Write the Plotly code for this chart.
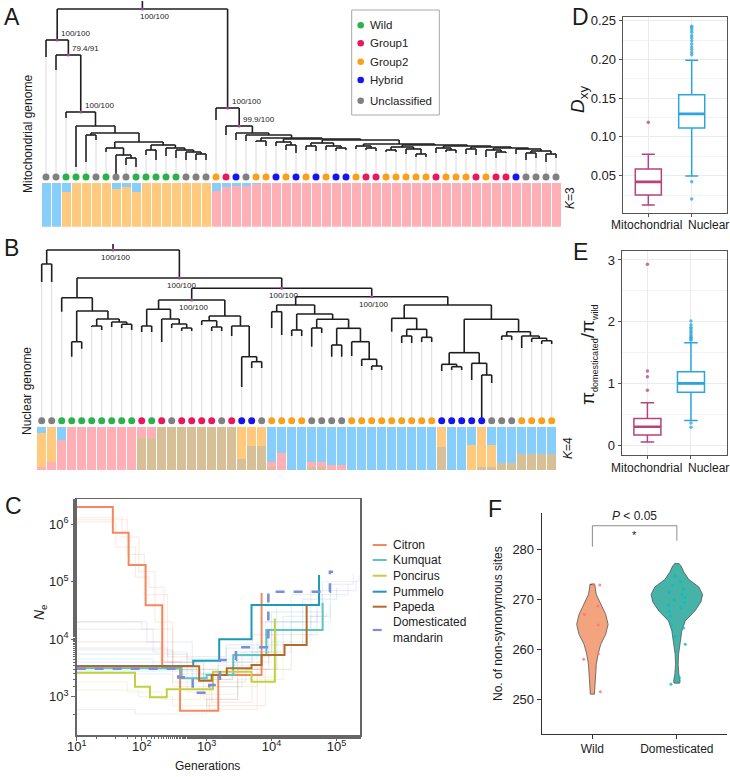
import plotly.graph_objects as go

W, H = 730, 777
FONT = "Liberation Sans, Arial, sans-serif"


def xdom(a, b):
    return [a / W, b / W]


def ydom(top, bottom):
    return [1 - bottom / H, 1 - top / H]


# ------------------------------------------------------------------ data
GROUP_ORDER = ["W", "G1", "G2", "H", "U"]
GROUP_NAMES = {"W": "Wild", "G1": "Group1", "G2": "Group2", "H": "Hybrid", "U": "Unclassified"}
GROUP_COLORS = {"W": "#2BB24C", "G1": "#E8185C", "G2": "#F8A11C", "H": "#1616EC", "U": "#808080"}

A_groups = ("U U W W W U W U U W W W W W U U U G2 G1 H U G2 G2 H G2 H G2 H G2 H "
            "H G2 G1 G1 G2 G2 G2 G2 G2 G1 G2 G2 G2 G1 G2 G1 G1 H U U U U").split()
B_groups = ("U U W W W W W W W W G1 W G1 U G1 G1 G1 G1 U G1 H H U G2 G2 G2 G2 U U U U "
            "G2 G2 G2 G2 G2 G2 G2 G2 G2 H H H H H U U U G2 G2 G2 G2").split()

# tip depths (tree units, top = 0)
A_tip_end = [57, 70, 118, 167, 162, 140, 152, 175, 165, 167, 155, 160, 156, 158, 160, 160, 160,
             120, 135, 140, 141, 142, 146, 146, 150, 153, 150, 151, 150, 151, 150, 149, 150,
             151, 152, 152, 154, 157, 157, 153, 152, 153, 154, 155, 157, 158, 153, 154, 160,
             158, 162, 158]
B_tip_end = [282, 282, 311.7, 356.7, 348.7, 327, 330, 327, 328, 330,
             332, 332, 342, 328, 331, 331, 325, 331, 331, 336,
             387, 368, 368, 328, 335, 336, 336, 346.7, 333, 356.7,
             356.7, 356, 366, 370, 370, 331.7, 343, 343, 342, 342,
             371, 370, 370, 380, 420, 383, 340, 340, 348, 342,
             344, 344]


def N(y, *kids, lab=None):
    return {"y": y, "kids": kids, "lab": lab}


A_tree = N(9,
           N(40, 0, N(55, 1, N(112, 2, N(126, 3, N(133, N(135, 4, 5),
             N(142, N(148, 6, N(155, 7, N(158, 8, 9))),
               N(145, N(150, 10, 11), N(148, 12, N(150, 13, N(152, 14, N(154, 15, 16)))))))),
             lab="100/100"), lab="79.4/91"), lab="100/100"),
           N(108, 17, N(126, 18, N(133, 19, N(135, 20, N(138, N(141, 21, 22),
             N(139, N(142, 23, N(145, 24, 25)),
               N(140, N(143, N(146, 26, 27), N(146, 28, N(148, 29, 30))),
                 N(144, N(146, 31, N(148, 32, 33)),
                   N(145, N(147, N(150, 34, 35), N(149, 36, N(154, 37, 38))),
                     N(146, N(148, 39, N(150, 40, 41)),
                       N(147, N(149, 42, 43),
                         N(148, N(150, 44, N(152, 45, 46)),
                           N(149, 47, N(151, N(153, 48, 49), N(154, 50, 51))))))))))))),
             lab="99.9/100"), lab="100/100"),
           lab="100/100")

B_tree = N(250,
           N(264, 0, 1),
           N(278,
             N(297.7, 2, N(311, N(341.7, 3, 4), N(319, N(326, 5, 6), N(322, 7, N(324.3, 8, 9))))),
             N(288.3,
               N(300,
                 N(309.3, N(326, 10, 11), N(319, 12, N(324, 13, N(328, 14, 15)))),
                 N(316, N(320.7, 16, N(327, 17, 18)), N(326, 19, N(356.7, 20, N(361.7, 21, 22)))),
                 lab="100/100"),
               N(296.7,
                 N(305, N(311.7, 23, 24),
                   N(314, N(330, 25, 26),
                     N(319.3, N(328, 27, 28),
                       N(328.3, N(345, 29, 30), N(341.7, 31, N(359.3, 32, N(366, 33, 34))))))),
                 N(305, N(318.3, 35, N(329.3, N(336, 36, 37), N(337.3, 38, 39))),
                   N(319.3,
                     N(352.7, N(364.3, 40, N(366.7, 41, 42)), N(363.3, 43, N(375, 44, 45))),
                     N(331.7, N(336, 46, 47), N(336, 48, N(338.3, 49, N(340.7, 50, 51)))))),
                 lab="100/100"),
               lab="100/100"),
             lab="100/100"),
           lab="100/100")

# ADMIXTURE proportions
A_K3_blue = [1, 1, .2, 0, 0, 0, 0, .14, .1, .2, 0, 0, 0, 0, 0, 0, 0,
             .18, .1, .07, .07, .03, 0, 0, 0, 0, 0, 0, 0, 0, 0, 0, 0, 0, 0, 0, 0,
             0, 0, 0, 0, 0, 0, 0, 0, 0, 0, 0, 0, 0, 0, 0]
A_K3_orange = [0, 0, .8, 1, 1, 1, 1, .86, .9, .8, 1, 1, 1, 1, 1, 1, 1,
               0, 0, 0, 0, 0, 0, 0, 0, 0, 0, 0, 0, 0, 0, 0, 0, 0, 0, 0, 0,
               0, 0, 0, 0, 0, 0, 0, 0, 0, 0, 0, 0, 0, 0, 0]
A_K3_pink = [0, 0, 0, 0, 0, 0, 0, 0, 0, 0, 0, 0, 0, 0, 0, 0, 0,
             .82, .9, .93, .93, .97, 1, 1, 1, 1, 1, 1, 1, 1, 1, 1, 1, 1, 1, 1, 1,
             1, 1, 1, 1, 1, 1, 1, 1, 1, 1, 1, 1, 1, 1, 1]

B_K4_blue = [.15, 0, .31, 0, 0, 0, 0, 0, 0, 0, 0, 0, 0, 0, 0, 0, 0, 0, 0, 0,
             0, 0, 0, .82, .61, 1, 1, .82, .82, .88, .88, 1, 1, 1, 1, 1, 1, 1, 1, 1,
             0, 1, 1, .42, 0, .42, .83, .83, .63, .63, .63, .63]
B_K4_orange = [.77, .81, 0, 0, 0, 0, 0, 0, 0, 0, 0, 0, 0, 0, 0, 0, 0, 0, 0, 0,
               .75, .44, .44, 0, 0, 0, 0, 0, 0, 0, 0, 0, 0, 0, 0, 0, 0, 0, 0, 0,
               .46, 0, 0, .58, .92, .5, 0, 0, 0, 0, 0, 0]
B_K4_pink = [.08, .19, .69, 1, 1, 1, 1, 1, 1, 1, .25, .25, 0, 0, 0, 0, 0, 0, 0, 0,
             0, 0, 0, .1, .39, 0, 0, .1, .1, .12, .12, 0, 0, 0, 0, 0, 0, 0, 0, 0,
             0, 0, 0, 0, 0, 0, 0, 0, 0, 0, 0, 0]
B_K4_tan = [0, 0, 0, 0, 0, 0, 0, 0, 0, 0, .75, .75, 1, 1, 1, 1, 1, 1, 1, 1,
            .25, .56, .56, .08, 0, 0, 0, .08, .08, 0, 0, 0, 0, 0, 0, 0, 0, 0, 0, 0,
            .54, 0, 0, 0, .08, .08, .17, .17, .37, .37, .37, .37]
K_COLORS = {"blue": "#87CEFA", "orange": "#FFCA7E", "pink": "#FFB0B6", "tan": "#D7BF98"}

# Panel C: Ne histories (generations, Ne)
C_species = ["Citron", "Kumquat", "Poncirus", "Pummelo", "Papeda", "Domesticated mandarin"]
C_colors = ["#F4895F", "#5BC5BE", "#C3CF3E", "#1D9AB8", "#B5692A", "#7B8EDB"]
C_faint_colors = ["rgba(244,137,95,0.16)", "rgba(91,197,190,0.16)", "rgba(195,207,62,0.16)",
                  "rgba(29,154,184,0.14)", "rgba(181,105,42,0.14)", "rgba(123,142,219,0.14)"]
citron_gen = [10, 36, 63, 115, 207, 390, 1510, 7000]
citron_ne = [2.0e6, 7.1e5, 1.95e5, 3.9e4, 3.3e3, 572, 2380, 6.4e4]
kumquat_gen = [10, 412, 1000, 2570, 8300, 61000]
kumquat_ne = [3120, 2090, 2380, 5300, 14500, 43000]
poncirus_gen = [10, 79, 134, 243, 1250, 4900, 11200]
poncirus_ne = [2610, 1490, 977, 1345, 2720, 1820, 23000]
pummelo_gen = [10, 622, 1560, 4900, 53700]
pummelo_ne = [3420, 4230, 10000, 39400, 131000]
papeda_gen = [10, 767, 1195, 2040, 4900, 7000, 15800, 34600]
papeda_ne = [3400, 1900, 2380, 3120, 3560, 5300, 7920, 39000]
mandarin_gen = [10, 366, 610, 1100, 1600, 2820, 8900, 79000, 88000]
mandarin_ne = [3070, 2170, 1170, 1600, 4350, 7240, 67000, 149000, 149000]

faint_species = [0, 0, 0, 0, 1, 1, 2, 2, 3, 3, 4, 4, 5, 5, 5, 5, 5]
faint_gen = [
    [10, 50, 90, 160, 300, 1200, 5000],
    [10, 40, 80, 130, 220, 900, 3000, 9000],
    [10, 60, 110, 250, 600, 1100, 6000],
    [10, 100, 300, 500, 1000, 8000],
    [10, 300, 900, 2000, 6000, 40000, 70000],
    [10, 150, 600, 1500, 5000, 20000, 80000],
    [10, 60, 200, 800, 3000, 15000],
    [10, 90, 300, 1200, 6000, 12000],
    [10, 500, 2000, 7000, 30000, 100000],
    [10, 800, 3000, 10000, 60000],
    [10, 300, 1500, 4000, 20000, 50000],
    [10, 200, 700, 2500, 9000, 30000],
    [10, 150, 500, 1500, 5000, 20000, 150000],
    [10, 250, 900, 2500, 10000, 40000, 200000],
    [10, 400, 1200, 3500, 15000, 80000, 180000],
    [10, 120, 600, 2000, 8000, 50000],
    [10, 80, 1000, 3000, 12000, 60000, 220000],
]
faint_ne = [
    [1.3e6, 6e5, 1.5e5, 2e4, 1500, 800, 2500],
    [1.1e6, 4e5, 1.2e5, 8e4, 4000, 900, 3000, 12000],
    [1.2e6, 3e5, 6e4, 5000, 2000, 600, 4000],
    [2e4, 1.5e4, 3000, 1200, 700, 3000],
    [2500, 1800, 2600, 4500, 9000, 25000, 30000],
    [4500, 3000, 2200, 3500, 6000, 20000, 40000],
    [1800, 1200, 900, 1100, 2000, 9000],
    [1300, 1000, 700, 1500, 2200, 15000],
    [5500, 4500, 8000, 20000, 50000, 80000],
    [2800, 2500, 6000, 30000, 60000],
    [6500, 3000, 1800, 3000, 12000, 30000],
    [9000, 4000, 2000, 4000, 8000, 20000],
    [1.5e4, 6000, 3000, 4000, 12000, 60000, 90000],
    [7000, 4000, 2000, 5000, 15000, 70000, 110000],
    [4000, 2500, 1500, 6000, 25000, 90000, 140000],
    [2e4, 9000, 5000, 7000, 20000, 45000],
    [600, 500, 900, 3000, 40000, 100000, 130000],
]

# Panel D: Dxy box statistics
D_cats = ["Mitochondrial", "Nuclear"]
D_q1 = [0.025, 0.1115]
D_med = [0.042, 0.1297]
D_q3 = [0.0585, 0.1545]
D_lo = [0.012, 0.0496]
D_hi = [0.0776, 0.199]
D_out_mito = [0.119]
D_out_nuc = [0.042, 0.020, 0.206, 0.209, 0.213, 0.216, 0.220, 0.224, 0.228, 0.231, 0.235, 0.238, 0.241, 0.243]
BOX_COLORS = ["#B4447E", "#2AA6DF"]

# Panel E: pi ratio box statistics
E_q1 = [0.165, 0.855]
E_med = [0.297, 1.0]
E_q3 = [0.432, 1.188]
E_lo = [0.05, 0.40]
E_hi = [0.686, 1.66]
E_out_mito = [0.89, 1.107, 1.2, 2.93]
E_out_nuc = [0.36, 0.29, 1.70, 1.72, 1.74, 1.76, 1.79, 1.82, 1.85, 1.88, 1.91, 1.95, 2.01]

# Panel F: violin profiles (value, relative density) and box stats
F_cats = ["Wild", "Domesticated"]
wild_vals = [251, 251.5, 253, 255, 257, 259, 261, 263, 265, 267, 269, 271, 272.5, 273]
wild_dens = [0.13, 0.14, 0.17, 0.21, 0.25, 0.36, 0.53, 0.85, 1.0, 0.85, 0.53, 0.25, 0.17, 0.16]
dom_vals = [253.2, 253.6, 255, 257, 259, 261.7, 263.7, 265.7, 267.7, 269.5, 271, 272.5, 274, 275.5, 276.8, 277.2]
dom_dens = [0.105, 0.128, 0.078, 0.05, 0.066, 0.128, 0.195, 0.323, 0.70, 0.934, 1.0, 0.856, 0.467, 0.272, 0.156, 0.078]
F_q1 = [261, 268]
F_med = [265, 270.2]
F_q3 = [267, 272.2]
F_lo = [256, 263.3]
F_hi = [273, 277]
wild_pts = [272.9, 268.7, 267.0, 264.9, 258.0, 259.1, 251.5, 273.0]
wild_jit = [0.088, 0.064, -0.095, 0.068, -0.103, 0.071, 0.095, 0.012]
dom_pts = [274.7, 273.6, 272.8, 272.1, 271.5, 271.0, 270.4, 269.9, 269.4, 268.9, 268.4,
           267.7, 266.7, 265.0, 264.3, 261.0, 254.3, 253.0, 262.6]
dom_jit = [-0.02, 0.04, -0.05, 0.08, -0.09, 0.06, 0.1, -0.03, 0.09, -0.1, 0.05,
           -0.088, -0.08, -0.06, 0.08, 0.1, 0.03, -0.07, -0.02]

# ------------------------------------------------------------------ helpers


def tree_segments(root, tip_end, stem_top):
    sx, sy, labs = [], [], []

    def rec(node):
        if isinstance(node, int):
            return float(node), tip_end[node]
        pts = [rec(k) for k in node["kids"]]
        y = node["y"]
        for cx, cy in pts:
            sx.extend([cx, cx, None])
            sy.extend([y, cy, None])
        sx.extend([pts[0][0], pts[-1][0], None])
        sy.extend([y, y, None])
        x = (pts[0][0] + pts[-1][0]) / 2
        if node["lab"]:
            labs.append((x, y, node["lab"]))
        return x, y

    rx, ry = rec(root)
    sx.extend([rx, rx, None])
    sy.extend([stem_top, ry, None])
    return sx, sy, labs, (rx, ry)


fig = go.Figure()
annotations = []
shapes = []

# ------------------------------------------------------------------ panels A & B


def add_tree_panel(tree, tip_end, groups, stem_top, dot_y, xa, ya, label_mode):
    cx, cy = [], []
    for i, e in enumerate(tip_end):
        cx.extend([i, i, None])
        cy.extend([e, dot_y, None])
    fig.add_trace(go.Scatter(x=cx, y=cy, mode="lines", line=dict(color="#DADADA", width=1),
                             xaxis=xa, yaxis=ya, showlegend=False, hoverinfo="skip"))
    sx, sy, labs, _ = tree_segments(tree, tip_end, stem_top)
    fig.add_trace(go.Scatter(x=sx, y=sy, mode="lines", line=dict(color="#1E1E1E", width=1.6),
                             xaxis=xa, yaxis=ya, showlegend=False, hoverinfo="skip"))
    fig.add_trace(go.Scatter(x=[l[0] for l in labs], y=[l[1] for l in labs], mode="markers",
                             marker=dict(color="#B03A9A", size=3), xaxis=xa, yaxis=ya,
                             showlegend=False, hoverinfo="skip"))
    for k, (lx, ly, lt) in enumerate(labs):
        if label_mode == "A":
            if k == len(labs) - 1:  # root
                annotations.append(dict(x=lx, y=ly, xref=xa, yref=ya, text=lt, showarrow=False,
                                        xanchor="left", yanchor="top", xshift=-4, yshift=-1,
                                        font=dict(size=8, color="#222")))
            else:
                annotations.append(dict(x=lx, y=ly, xref=xa, yref=ya, text=lt, showarrow=False,
                                        xanchor="left", yanchor="bottom", xshift=2, yshift=0,
                                        font=dict(size=8, color="#222")))
        else:
            annotations.append(dict(x=lx, y=ly, xref=xa, yref=ya, text=lt, showarrow=False,
                                    xanchor="center", yanchor="top", xshift=2, yshift=-1,
                                    font=dict(size=8, color="#222")))
    for g in GROUP_ORDER:
        idx = [i for i, gg in enumerate(groups) if gg == g]
        fig.add_trace(go.Scatter(x=idx, y=[dot_y] * len(idx), mode="markers",
                                 marker=dict(color=GROUP_COLORS[g], size=7),
                                 xaxis=xa, yaxis=ya, showlegend=False, hoverinfo="skip"))


add_tree_panel(A_tree, A_tip_end, A_groups, 1, 177, "x", "y", "A")
add_tree_panel(B_tree, B_tip_end, B_groups, 244, 420.7, "x3", "y3", "B")

tips = list(range(52))
for vals, col in [(A_K3_pink, "pink"), (A_K3_orange, "orange"), (A_K3_blue, "blue")]:
    fig.add_trace(go.Bar(x=tips, y=vals, marker=dict(color=K_COLORS[col], line=dict(width=0)),
                         xaxis="x2", yaxis="y2", showlegend=False, hoverinfo="skip"))
for vals, col in [(B_K4_tan, "tan"), (B_K4_pink, "pink"), (B_K4_orange, "orange"), (B_K4_blue, "blue")]:
    fig.add_trace(go.Bar(x=tips, y=vals, marker=dict(color=K_COLORS[col], line=dict(width=0)),
                         xaxis="x4", yaxis="y4", showlegend=False, hoverinfo="skip"))

# legend of panel A (manual)
leg_y = [25.3, 43.3, 61.7, 80, 100.7]
shapes.append(dict(type="rect", xref="paper", yref="paper", x0=351.7 / W, x1=439.3 / W,
                   y0=1 - 115 / H, y1=1 - 10 / H, line=dict(color="#A8A8A8", width=1)))
for g, yy in zip(GROUP_ORDER, leg_y):
    shapes.append(dict(type="circle", xref="paper", yref="paper", x0=(360.7 - 3.3) / W, x1=(360.7 + 3.3) / W,
                       y0=1 - (yy + 3.3) / H, y1=1 - (yy - 3.3) / H,
                       fillcolor=GROUP_COLORS[g], line=dict(width=0)))
    annotations.append(dict(x=368.3 / W, y=1 - yy / H, xref="paper", yref="paper", text=GROUP_NAMES[g],
                            showarrow=False, xanchor="left", yanchor="middle", font=dict(size=11.5, color="#222")))

# ------------------------------------------------------------------ panel C
for sp, g, n in zip(faint_species, faint_gen, faint_ne):
    fig.add_trace(go.Scatter(x=g, y=n, mode="lines", line=dict(color=C_faint_colors[sp], width=1.2, shape="hv"),
                             xaxis="x5", yaxis="y5", showlegend=False, hoverinfo="skip"))
main_series = [(citron_gen, citron_ne), (kumquat_gen, kumquat_ne), (poncirus_gen, poncirus_ne),
               (pummelo_gen, pummelo_ne), (papeda_gen, papeda_ne), (mandarin_gen, mandarin_ne)]
for k, (g, n) in enumerate(main_series):
    dash = "dash" if k == 5 else "solid"
    fig.add_trace(go.Scatter(x=g, y=n, mode="lines",
                             line=dict(color=C_colors[k], width=2.6 if k == 5 else 2, shape="hv", dash=dash),
                             xaxis="x5", yaxis="y5", showlegend=False, hoverinfo="skip"))
leg_c_y = [545, 560, 575.7, 591.7, 606.7, 630]
for k, yy in enumerate(leg_c_y):
    shapes.append(dict(type="line", xref="paper", yref="paper", x0=372.7 / W, x1=386.7 / W,
                       y0=1 - yy / H, y1=1 - yy / H,
                       line=dict(color=C_colors[k], width=2.2 if k == 5 else 2, dash="dash" if k == 5 else "solid")))
    annotations.append(dict(x=390.7 / W, y=1 - yy / H, xref="paper", yref="paper",
                            text=C_species[k].replace(" ", "<br>"), showarrow=False,
                            xanchor="left", yanchor="middle", align="left",
                            font=dict(size=12, color="#222")))

# ------------------------------------------------------------------ panels D & E


def add_box_panel(q1, med, q3, lo, hi, outs, xa, ya, width):
    for k in range(2):
        fig.add_trace(go.Box(x=[k], q1=[q1[k]], median=[med[k]], q3=[q3[k]],
                             lowerfence=[lo[k]], upperfence=[hi[k]], width=width,
                             fillcolor="white", line=dict(color=BOX_COLORS[k], width=1.5),
                             boxpoints=False, xaxis=xa, yaxis=ya, showlegend=False, hoverinfo="skip"))
        fig.add_trace(go.Scatter(x=[k - width / 2, k + width / 2], y=[med[k], med[k]], mode="lines",
                                 line=dict(color=BOX_COLORS[k], width=2.6), xaxis=xa, yaxis=ya,
                                 showlegend=False, hoverinfo="skip"))
        fig.add_trace(go.Scatter(x=[k] * len(outs[k]), y=outs[k], mode="markers",
                                 marker=dict(color=BOX_COLORS[k], size=3.5, opacity=0.75),
                                 xaxis=xa, yaxis=ya, showlegend=False, hoverinfo="skip"))


add_box_panel(D_q1, D_med, D_q3, D_lo, D_hi, [D_out_mito, D_out_nuc], "x6", "y6", 0.6)
add_box_panel(E_q1, E_med, E_q3, E_lo, E_hi, [E_out_mito, E_out_nuc], "x7", "y7", 0.62)

# ------------------------------------------------------------------ panel F
F_fill = ["#F3A47F", "#45B3A8"]
F_pt = ["#F8766D", "#00BFC4"]
F_half = [0.186, 0.305]
for k, (vals, dens) in enumerate([(wild_vals, wild_dens), (dom_vals, dom_dens)]):
    xs = [k + d * F_half[k] for d in dens] + [k - d * F_half[k] for d in dens[::-1]]
    ys = list(vals) + list(vals[::-1])
    fig.add_trace(go.Scatter(x=xs + [xs[0]], y=ys + [ys[0]], mode="lines", fill="toself",
                             fillcolor=F_fill[k], line=dict(color="#555555", width=0.8),
                             xaxis="x8", yaxis="y8", showlegend=False, hoverinfo="skip"))
for k, (pts, jit) in enumerate([(wild_pts, wild_jit), (dom_pts, dom_jit)]):
    fig.add_trace(go.Scatter(x=[k + j for j in jit], y=pts, mode="markers",
                             marker=dict(color=F_pt[k], size=3, opacity=0.8),
                             xaxis="x8", yaxis="y8", showlegend=False, hoverinfo="skip"))
for k in range(2):
    fig.add_trace(go.Box(x=[k], q1=[F_q1[k]], median=[F_med[k]], q3=[F_q3[k]],
                         lowerfence=[F_lo[k]], upperfence=[F_hi[k]], width=0.11,
                         fillcolor="rgba(0,0,0,0)", line=dict(color="#333333", width=1.8),
                         boxpoints=False, xaxis="x8", yaxis="y8", showlegend=False, hoverinfo="skip"))
# significance bracket
fig.add_trace(go.Scatter(x=[0, 0, 1, 1], y=[280.6, 284.8, 284.8, 281.8], mode="lines",
                         line=dict(color="#8C8C8C", width=1), xaxis="x8", yaxis="y8",
                         showlegend=False, hoverinfo="skip"))
annotations.append(dict(x=0.5, y=284.8, xref="x8", yref="y8", text="<i>P</i> < 0.05", showarrow=False,
                        xanchor="center", yanchor="bottom", yshift=1, font=dict(size=12, color="#222")))
annotations.append(dict(x=0.5, y=284.8, xref="x8", yref="y8", text="*", showarrow=False,
                        xanchor="center", yanchor="top", yshift=-1, font=dict(size=11, color="#222")))


# ------------------------------------------------------------------ text
def txt(x, y, s, size=12, angle=0, **kw):
    d = dict(x=x / W, y=1 - y / H, xref="paper", yref="paper", text=s, showarrow=False,
             textangle=angle, xanchor="center", yanchor="middle",
             font=dict(size=size, color="#1a1a1a"))
    d.update(kw)
    annotations.append(d)


for L, lx, ly in [("A", 12, 17), ("B", 11, 248), ("C", 13, 506), ("D", 580, 17), ("E", 580, 252), ("F", 495, 509)]:
    txt(lx, ly, L, size=23)
txt(28, 134, "Mitochondrial genome", 12, -90)
txt(27, 391, "Nuclear genome", 12, -90)
txt(570, 198, "<i>K</i>=3", 12, -90)
txt(568, 448, "<i>K</i>=4", 12, -90)
txt(40, 612, "<i>N</i><sub>e</sub>", 14, -90)
txt(207, 766, "Generations", 12)
txt(579, 100, "<i>D</i><sub>xy</sub>", 19, -90)
txt(588, 355, "π<sub><span style='font-size:9px'>domesticated</span></sub>/π<sub><span style='font-size:9px'>wild</span></sub>",
    19, -90)
txt(498, 624, "No. of non-synonymous sites", 12, -90)
# category labels of D and E (placed side by side as in the figure)
for yy in (225, 468):
    txt(683.5, yy, D_cats[0], 12, xanchor="right")
    txt(686, yy, D_cats[1], 12, xanchor="left")

# ------------------------------------------------------------------ layout
hidden = dict(visible=False, showgrid=False, zeroline=False, fixedrange=True, automargin=False)
tick_font = dict(size=13, color="#222")
box_axis = dict(showline=True, mirror=True, linecolor="#555555", linewidth=1,
                showgrid=True, gridcolor="#EBEBEB", zeroline=False, ticks="outside",
                ticklen=3, tickcolor="#555555", tickfont=tick_font, automargin=False)

layout = dict(
    template="none",
    width=W, height=H, margin=dict(l=0, r=0, t=0, b=0, pad=0, autoexpand=False),
    paper_bgcolor="white", plot_bgcolor="white",
    font=dict(family=FONT, color="#1a1a1a"),
    barmode="stack", bargap=0.1, showlegend=False,
    xaxis=dict(domain=xdom(41, 561), range=[-0.5, 51.5], anchor="y", **hidden),
    yaxis=dict(domain=ydom(0, 181), range=[181, 0], anchor="x", **hidden),
    xaxis2=dict(domain=xdom(41, 561), range=[-0.5, 51.5], anchor="y2", **hidden),
    yaxis2=dict(domain=ydom(182.7, 226.7), range=[0, 1], anchor="x2", **hidden),
    xaxis3=dict(domain=xdom(36.7, 556.7), range=[-0.5, 51.5], anchor="y3", **hidden),
    yaxis3=dict(domain=ydom(236, 425), range=[425, 236], anchor="x3", **hidden),
    xaxis4=dict(domain=xdom(36.7, 556.7), range=[-0.5, 51.5], anchor="y4", **hidden),
    yaxis4=dict(domain=ydom(426.7, 470), range=[0, 1], anchor="x4", **hidden),
    xaxis5=dict(domain=xdom(76.7, 360), type="log", range=[1, 5.36], anchor="y5", automargin=False,
                showline=True, mirror=True, linecolor="#666666", linewidth=1.5,
                showgrid=False, zeroline=False, ticks="outside", ticklen=4, tickcolor="#666666",
                tickvals=[10, 100, 1000, 1e4, 1e5],
                ticktext=["10<sup>1</sup>", "10<sup>2</sup>", "10<sup>3</sup>", "10<sup>4</sup>", "10<sup>5</sup>"],
                tickfont=tick_font, ticklabelstandoff=-5,
                minor=dict(ticks="outside", ticklen=2.5, tickcolor="#666666", showgrid=False)),
    yaxis5=dict(domain=ydom(499.3, 735), type="log", range=[2.334, 6.435], anchor="x5", automargin=False,
                showline=True, mirror=True, linecolor="#666666", linewidth=1.5,
                showgrid=False, zeroline=False, ticks="outside", ticklen=4, tickcolor="#666666",
                tickvals=[1e3, 1e4, 1e5, 1e6],
                ticktext=["10<sup>3</sup>", "10<sup>4</sup>", "10<sup>5</sup>", "10<sup>6</sup>"],
                tickfont=tick_font,
                minor=dict(ticks="outside", ticklen=2.5, tickcolor="#666666", showgrid=False)),
    xaxis6=dict(domain=xdom(622.7, 727.3), range=[-0.59, 1.82], anchor="y6",
                tickvals=[0, 1], showticklabels=False, **box_axis),
    yaxis6=dict(domain=ydom(16.7, 213.3), range=[0.0014, 0.2552], anchor="x6",
                tickvals=[0.05, 0.10, 0.15, 0.20, 0.25], ticktext=["0.05", "0.10", "0.15", "0.20", "0.25"],
                minor=dict(dtick=0.025, tick0=0, showgrid=True, gridcolor="#F3F3F3"), **box_axis),
    xaxis7=dict(domain=xdom(621.7, 726.7), range=[-0.59, 1.82], anchor="y7",
                tickvals=[0, 1], showticklabels=False, **box_axis),
    yaxis7=dict(domain=ydom(250.7, 455), range=[-0.16, 3.15], anchor="x7",
                tickvals=[0, 1, 2, 3], minor=dict(dtick=0.5, tick0=0, showgrid=True, gridcolor="#F3F3F3"),
                **box_axis),
    xaxis8=dict(domain=xdom(541.7, 726.7), range=[-0.6, 1.59], anchor="y8", automargin=False,
                showline=True, linecolor="#333333", linewidth=1, showgrid=False, zeroline=False,
                ticks="outside", ticklen=4, tickcolor="#333333",
                tickvals=[0, 1], ticktext=F_cats, tickfont=dict(size=12, color="#222")),
    yaxis8=dict(domain=ydom(513.3, 734), range=[243, 287.3], anchor="x8", automargin=False,
                showline=True, linecolor="#333333", linewidth=1, showgrid=False, zeroline=False,
                ticks="outside", ticklen=4, tickcolor="#333333",
                tickvals=[250, 260, 270, 280], tickfont=tick_font),
    annotations=annotations,
    shapes=shapes,
)
fig.update_layout(**layout)
fig.write_html("out.html", config={"displayModeBar": False, "staticPlot": True},
               post_script="document.body.style.margin='0';document.body.style.overflow='hidden';")
